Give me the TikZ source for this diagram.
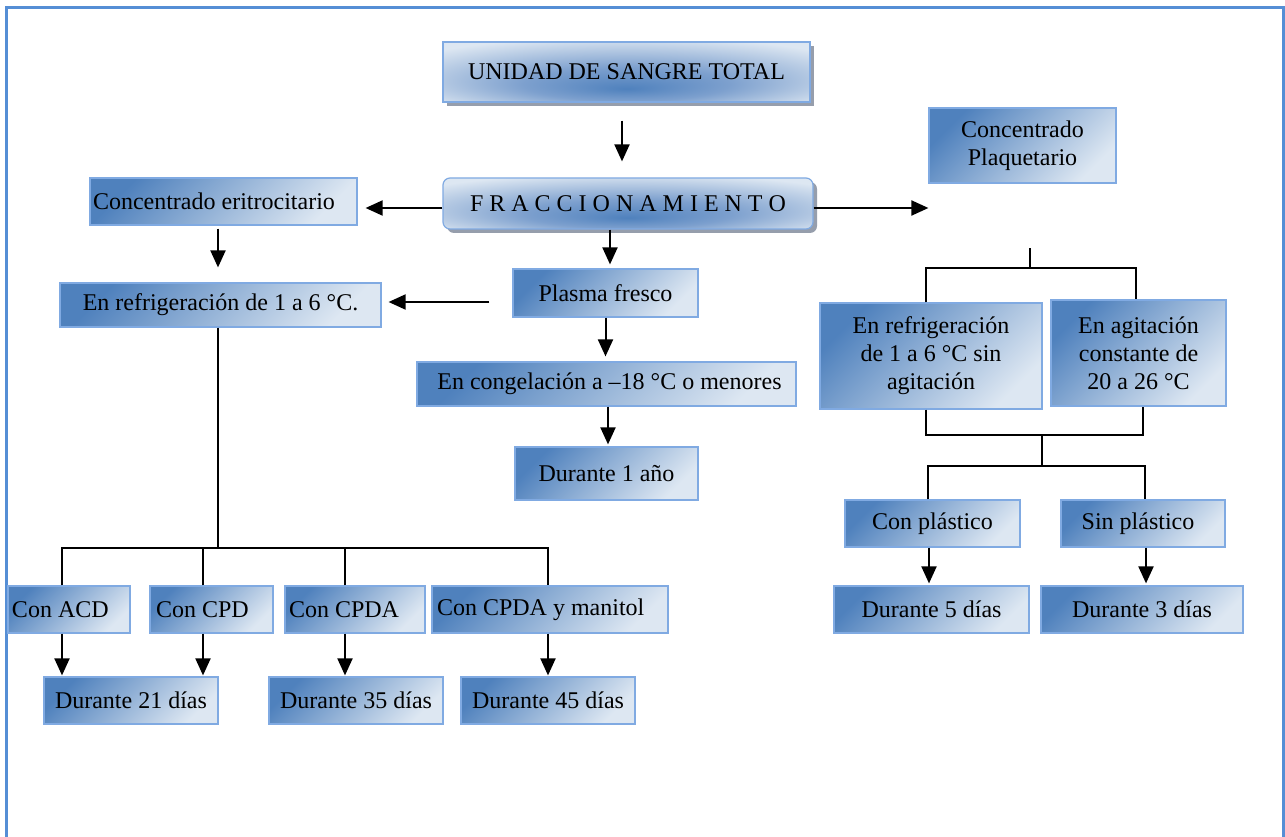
\documentclass[tikz,border=0pt]{standalone}
\usepackage{fontspec}
\setmainfont{Liberation Serif}
\usetikzlibrary{arrows.meta,shadows}

\definecolor{bdark}{RGB}{79,129,189}
\definecolor{blight}{RGB}{221,231,242}
\definecolor{bedge}{RGB}{128,170,226}
\definecolor{frameblue}{RGB}{85,142,213}
\definecolor{shadowgray}{RGB}{150,158,172}
\definecolor{bandmid}{RGB}{125,160,206}

% horizontal glow used for the two header boxes
\pgfdeclareradialshading{band}{\pgfpoint{0bp}{-14bp}}{color(0bp)=(bdark); color(14bp)=(bandmid); color(34bp)=(blight); color(50bp)=(blight)}

\tikzset{
  txt/.style={font=\fontsize{24}{28}\selectfont, text=black},
  box/.style={txt, draw=bedge, line width=1.2pt, top color=bdark, bottom color=blight,
    shading angle=45, inner sep=0pt, align=center},
  lbox/.style={box, align=flush left, inner xsep=#1pt, inner ysep=0pt},
  topbox/.style={txt, draw=bedge, line width=1.2pt, shading=band, inner sep=0pt, align=center,
    drop shadow={shadow xshift=4pt, shadow yshift=-4pt, fill=shadowgray, opacity=1}},
  wh/.style 2 args={minimum width=#1pt, minimum height=#2pt},
  line/.style={draw=black, line width=2pt},
  arr/.style={line, -{Triangle[length=17pt,width=15pt]}}
}

\begin{document}
\begin{tikzpicture}[x=1pt,y=-1pt]
\useasboundingbox (0,0) rectangle (1285,837);
\fill[white] (0,0) rectangle (1285,837);
\draw[frameblue, line width=2.2pt] (6.5,840) -- (6.5,7.5) -- (1283.5,7.5) -- (1283.5,840);

% header boxes
\node[topbox, wh={367}{60}] (unidad) at (626.5,72) {UNIDAD DE SANGRE TOTAL};
\node[topbox, wh={370}{51}, rounded corners=7pt] (fracc) at (628,203.5) {F R A C C I O N A M I E N T O};

% red cell branch
\node[lbox=3, text width=261pt, minimum height=47pt] (eritro) at (223.5,201.5) {Concentrado eritrocitario};
\node[box, wh={321}{44}] (refri) at (220.5,305) {En refrigeración de 1 a 6 °C.};
\node[lbox=4, text width=114pt, minimum height=47pt] (acd) at (69,609.5) {Con ACD};
\node[lbox=6, text width=111pt, minimum height=47pt] (cpd) at (211.5,609.5) {Con CPD};
\node[lbox=4, text width=132pt, minimum height=47pt] (cpda) at (355,609.5) {Con CPDA};
\node[lbox=5, text width=226pt, minimum height=47pt] (manitol) at (550,609.5) {Con CPDA y manitol};
\node[box, wh={174}{47}] (d21) at (131,700.5) {Durante 21 días};
\node[box, wh={174}{47}] (d35) at (356,700.5) {Durante 35 días};
\node[box, wh={174}{47}] (d45) at (548,700.5) {Durante 45 días};

% plasma branch
\node[box, wh={185}{48}] (plasma) at (605.5,293) {Plasma fresco};
\node[box, wh={379}{44}] (congel) at (606.5,384) {\hspace{6pt}En congelación a –18 °C o menores};
\node[box, wh={183}{53}] (anio) at (606.5,473.5) {Durante 1 año};

% platelet branch
\node[box, wh={187}{75}] (plaq) at (1022.5,145.5) {Concentrado\\Plaquetario};
\node[box, wh={222}{106}] (rsin) at (931,356) {En refrigeración\\de 1 a 6 °C sin\\agitación};
\node[box, wh={175}{106}] (agit) at (1138.5,353) {En agitación\\constante de\\20 a 26 °C};
\node[box, wh={175}{47}] (conpl) at (932.5,523.5) {Con plástico};
\node[box, wh={164}{47}] (sinpl) at (1143,523.5) {Sin plástico\hspace{10pt}};
\node[box, wh={195}{47}] (d5) at (931.5,609.5) {Durante 5 días};
\node[box, wh={202}{47}] (d3) at (1142,609.5) {Durante 3 días};

% junction points
\coordinate (lbus) at (218,548);
\coordinate (rtop) at (1030,248);
\coordinate (rb1) at (1030,268);
\coordinate (rb2) at (1042,435);
\coordinate (rb3) at (1042,466);

% main arrows
\draw[arr, shorten <=18pt, shorten >=16pt] ([xshift=-4.5pt]unidad.south) -- ([xshift=-6pt]fracc.north);
\draw[arr, shorten >=8pt] ([yshift=-4.5pt]fracc.west) -- ([yshift=-4.5pt]fracc.west -| eritro.east);
\draw[arr] ([yshift=-4.5pt]fracc.east) -- ([yshift=-4.5pt]fracc.east -| plaq.west);
\draw[arr, shorten >=4pt] ([xshift=-18pt]fracc.south) -- ([xshift=-18pt]fracc.south |- plasma.north);

% red cells
\draw[arr, shorten <=3pt, shorten >=15pt] ([xshift=-5.5pt]eritro.south) -- ([xshift=-5.5pt]eritro.south |- refri.north);
\draw[arr, shorten <=23pt, shorten >=7pt] ([yshift=-9pt]plasma.west) -- ([yshift=-9pt]plasma.west -| refri.east);
\draw[line] (lbus |- refri.south) -- (lbus);
\draw[line] ([xshift=-7pt]acd.north) |- (lbus) -| ([xshift=-2pt]manitol.north);
\draw[line] ([xshift=-8.5pt]cpd.north) -- ([xshift=-8.5pt]cpd.north |- lbus);
\draw[line] ([xshift=-10pt]cpda.north) -- ([xshift=-10pt]cpda.north |- lbus);
\draw[arr, shorten >=1pt] ([xshift=-7pt]acd.south) -- ([xshift=-7pt]acd.south |- d21.north);
\draw[arr, shorten >=1pt] ([xshift=-8.5pt]cpd.south) -- ([xshift=-8.5pt]cpd.south |- d21.north);
\draw[arr, shorten >=1pt] ([xshift=-10pt]cpda.south) -- ([xshift=-10pt]cpda.south |- d35.north);
\draw[arr, shorten >=1pt] ([xshift=-2pt]manitol.south) -- ([xshift=-2pt]manitol.south |- d45.north);

% plasma
\draw[arr, shorten >=5pt] (plasma.south) -- (plasma.south |- congel.north);
\draw[arr, shorten >=2pt] ([xshift=1.5pt]congel.south) -- ([xshift=1.5pt]congel.south |- anio.north);

% platelets
\draw[line] (rtop) -- (rb1);
\draw[line] ([xshift=-5pt]rsin.north) |- (rb1) -| ([xshift=-2.5pt]agit.north);
\draw[line] ([xshift=-5pt]rsin.south) |- (rb2) -| ([xshift=4.5pt]agit.south);
\draw[line] (rb2) -- (rb3);
\draw[line] ([xshift=-4.5pt]conpl.north) |- (rb3) -| ([xshift=2pt]sinpl.north);
\draw[arr, shorten >=2pt] ([xshift=-3.5pt]conpl.south) -- ([xshift=-3.5pt]conpl.south |- d5.north);
\draw[arr, shorten >=2pt] ([xshift=3pt]sinpl.south) -- ([xshift=3pt]sinpl.south |- d3.north);
\end{tikzpicture}
\end{document}
